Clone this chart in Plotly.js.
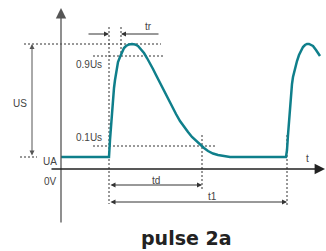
<!DOCTYPE html>
<html><head><meta charset="utf-8">
<script src="https://cdn.plot.ly/plotly-3.0.1.min.js"></script>
<style>html,body{margin:0;padding:0;background:#fff;}#c{width:326px;height:251px;}</style>
</head><body><div id="c"></div>
<script>
// Pulse waveform (diagram coordinates)
const pulseX = [61,109,110,111,112,113,114,115,116,117,118,120,122,124,126,129,132,135,138,141,144,147,150,153,156,159,162,165,168,172,176,180,184,188,192,196,200,204,208,213,218,224,230,286,287,288,289,290,291,292,293,295,297,299,301,303,305,307,309,311,313,316,320];
const pulseY = [157,157,140,125,110,98,88,80,73,67,62,57,52,48,46,44.5,44,44.5,46,49,53,58,63,69,75,81,87,93,99,106,114,121,127,132,137,141,144.5,148,151,153.5,155,156.3,157,157,150,135,120,105,93,84,77,68,61,55,50,47,45,44,44,45,46,50,56];
// reference levels
const levelNames = ["US","0.9Us","0.1Us","UA","0V"];
const levelY = [44,56,146,157,169];
// time markers
const timeNames = ["t0","tr","td","t1"];
const timeX = [109,121,202,287];
const labelTexts = ["US","0.9Us","0.1Us","UA","0V","tr","td","t1","t"];
const titleText = "pulse 2a";

const dash = {color:'#333',width:1,dash:'2px,2px'};
const traces = [];
function seg(xs,ys,line){traces.push({x:xs,y:ys,mode:'lines',line:line,hoverinfo:'skip',showlegend:false});}
// dashed horizontal levels
seg([24,161],[levelY[0],levelY[0]],dash);
seg([93,163],[levelY[1],levelY[1]],dash);
seg([93,215],[levelY[2],levelY[2]],dash);
seg([20,37],[levelY[3],levelY[3]],dash);
// dotted vertical markers
seg([timeX[0],timeX[0]],[27,204],dash);
seg([timeX[1],timeX[1]],[27,levelY[1]],dash);
seg([timeX[2],timeX[2]],[135,190],dash);
seg([timeX[3],timeX[3]],[135,207],dash);
// curve
traces.push({x:pulseX,y:pulseY,mode:'lines',line:{color:'#0f7f8b',width:2.5},hoverinfo:'skip',showlegend:false});

const ann = [];
function arrow(x,y,ax,ay,opts){ann.push(Object.assign({x:x,y:y,ax:ax,ay:ay,xref:'x',yref:'y',axref:'x',ayref:'y',text:'',showarrow:true,arrowhead:2,arrowsize:1,arrowwidth:1,arrowcolor:'#333'},opts||{}));}
// axes
arrow(61,8,61,224,{arrowcolor:'#555',arrowwidth:1.3,arrowsize:1.6,arrowhead:2});
arrow(325,169,50,169,{arrowcolor:'#222',arrowwidth:1.3,arrowsize:1.6,arrowhead:2});
// US double arrow
arrow(32,levelY[0],32,levelY[3],{arrowside:'end+start',arrowcolor:'#555'});
// tr arrows
arrow(timeX[0],34,87,34);
arrow(timeX[1],34,160,34);
// td and t1
arrow(timeX[2],185,timeX[0],185,{arrowside:'end+start'});
arrow(timeX[3],202,timeX[0],202,{arrowside:'end+start'});
function txt(t,x,y,xa,opts){ann.push(Object.assign({text:t,x:x,y:y,xref:'x',yref:'y',showarrow:false,xanchor:xa||'center',yanchor:'middle',font:{family:'Liberation Sans, Arial',size:10,color:'#444'}},opts||{}));}
txt(labelTexts[0],20,103);
txt(labelTexts[1],104,64,'right');
txt(labelTexts[2],104,137,'right');
txt(labelTexts[3],59,161,'right');
txt(labelTexts[4],59,181,'right');
txt(labelTexts[5],148,26);
txt(labelTexts[6],156,180);
txt(labelTexts[7],212,196);
txt(labelTexts[8],307,158);
txt(titleText,186,238,'center',{font:{family:'DejaVu Sans, Arial',size:19,color:'#222',weight:'bold'}});

const layout = {
  width:326,height:251,margin:{l:0,r:0,t:0,b:0},
  paper_bgcolor:'#fff',plot_bgcolor:'#fff',
  xaxis:{range:[0,326],visible:false,fixedrange:true},
  yaxis:{range:[251,0],visible:false,fixedrange:true},
  annotations:ann,showlegend:false
};
Plotly.newPlot('c',traces,layout,{staticPlot:true,displayModeBar:false});
</script></body></html>
